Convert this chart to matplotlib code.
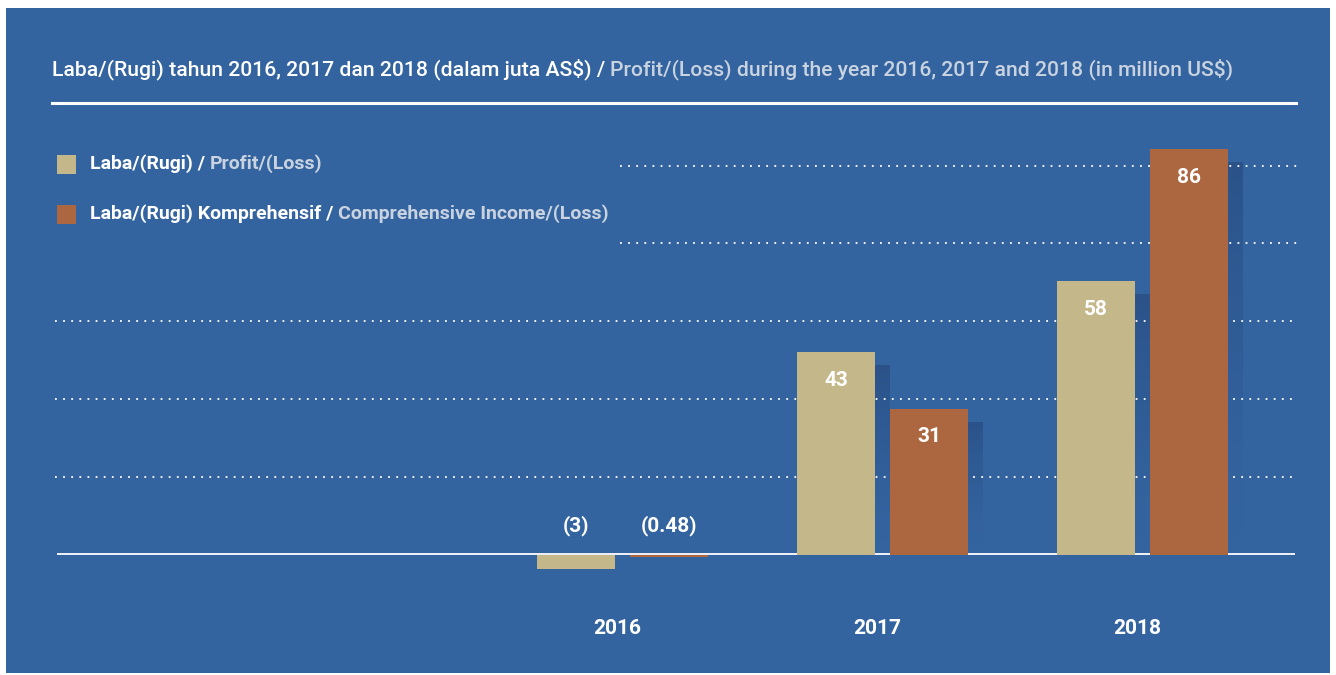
import numpy as np
import matplotlib.pyplot as plt
from matplotlib.patches import Rectangle

# data (juta AS$)
years = ['2016', '2017', '2018']
profit = [-3, 43, 58]
comprehensive = [-0.48, 31, 86]
profit_labels = ['(3)', '43', '58']
comp_labels = ['(0.48)', '31', '86']
grid_levels = [16.5, 33.0, 49.5, 66.0, 82.5]

BG = '#3464a0'
TAN = '#c4b78a'
RUST = '#ad6740'
GREY = '#c9d3e0'
SHADOW = (0.13, 0.25, 0.44)

W, H = 1336, 675
fig = plt.figure(figsize=(W / 100, H / 100), dpi=100)
fig.patch.set_facecolor('white')
fig.patches.append(Rectangle((6 / W, 2 / H), 1324 / W, 665 / H, transform=fig.transFigure,
                             facecolor=BG, edgecolor='none', zorder=-5))

# axes over the whole figure; 1 unit = 4.72 px vertically, group spacing 260 px
ax = fig.add_axes([0, 0, 1, 1])
ax.set_facecolor('none')
ppu = 4.72
base_px = H - 555
ylim = (-base_px / ppu, (H - base_px) / ppu)
xlim = (-622.5 / 260, (W - 622.5) / 260)
ax.axis('off')

x = np.arange(len(years))
bw = 0.3
off = 0.179
dx_sh = 15 / 260
dy_sh = 13 / ppu

def px_x(p):
    return (p - 622.5) / 260

# dotted gridlines (top two stop short of the legend)
for i, g in enumerate(grid_levels):
    x0 = px_x(620) if i >= 3 else px_x(55)
    ax.hlines(g, x0, px_x(1297), colors='white', linestyles=(0, (1, 3.5)), linewidth=1.3, zorder=2)

# fading drop shadows behind the positive bars
grad = np.zeros((100, 1, 4))
grad[..., 0], grad[..., 1], grad[..., 2] = SHADOW
grad[:, 0, 3] = np.linspace(0.55, 0.0, 100) ** 1.3
for xs, vals in ((x - off, profit), (x + off, comprehensive)):
    for xi, v in zip(xs, vals):
        if v > 0:
            ax.imshow(grad, extent=[xi - bw / 2 + dx_sh, xi + bw / 2 + dx_sh, 2, v - dy_sh],
                      aspect='auto', interpolation='bilinear', zorder=1)

# baseline sits under the bars so the small negative one stays visible
ax.hlines(0.3, px_x(57), px_x(1295), colors='white', linewidth=1.3, zorder=2.5)

ax.bar(x - off, profit, bw, color=TAN, zorder=3)
ax.bar(x + off, comprehensive, bw, color=RUST, zorder=3)
ax.set_ylim(*ylim)
ax.set_xlim(*xlim)

lab_font = dict(family='Roboto', weight='bold', fontsize=15, color='white')
for xs, vals, labs in ((x - off, profit, profit_labels), (x + off, comprehensive, comp_labels)):
    for xi, v, s in zip(xs, vals, labs):
        if v > 0:
            ax.text(xi, v - 28 / ppu, s, ha='center', va='center', zorder=5, **lab_font)
        else:
            ax.text(xi, 29 / ppu, s, ha='center', va='center', zorder=5, **lab_font)

for xi, y in zip(x, years):
    ax.text(xi - 5 / 260, -73 / ppu, y, ha='center', va='center', **lab_font)

# title
t1 = fig.text(52 / W, 1 - 69 / H, 'Laba/(Rugi) tahun 2016, 2017 dan 2018 (dalam juta AS$) / ',
              family='Roboto', fontsize=15.2, color='white', va='center', weight='medium')
fig.add_artist(plt.Line2D([52 / W, 1296 / W], [1 - 103 / H] * 2, color='white', linewidth=2.2))

# legend
legend_rows = [(TAN, 'Laba/(Rugi) / ', 'Profit/(Loss)', 164),
               (RUST, 'Laba/(Rugi) Komprehensif / ', 'Comprehensive Income/(Loss)', 214)]
legend_texts = []
for c, a, b, ypx in legend_rows:
    fig.patches.append(Rectangle((57 / W, 1 - (ypx + 10) / H), 19 / W, 19 / H,
                                 transform=fig.transFigure, facecolor=c, edgecolor='none'))
    ta = fig.text(90 / W, 1 - ypx / H, a, family='Roboto', weight='bold', fontsize=14,
                  color='white', va='center')
    legend_texts.append((ta, b))

# grey English halves, placed right after the white Indonesian text
fig.add_artist(plt.Annotation('Profit/(Loss) during the year 2016, 2017 and 2018 (in million US$)',
                              xy=(1, 0), xycoords=t1, va='bottom', ha='left', family='Roboto',
                              fontsize=15.2, color=GREY, weight='medium'))
for ta, b in legend_texts:
    fig.add_artist(plt.Annotation(b, xy=(1, 0), xycoords=ta, va='bottom', ha='left',
                                  family='Roboto', weight='bold', fontsize=14, color=GREY))

fig.savefig('out.png', dpi=100, facecolor='white')
